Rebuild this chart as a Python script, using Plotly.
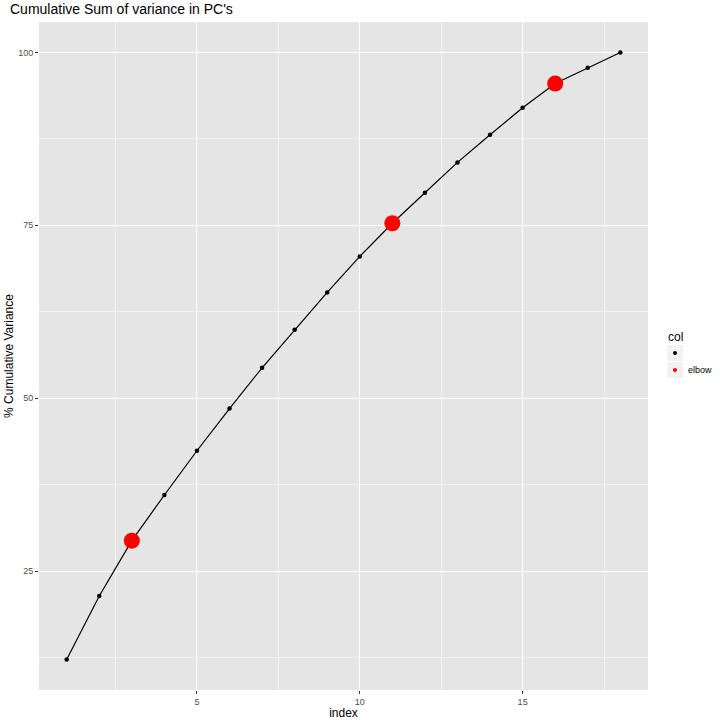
import plotly.graph_objects as go

index = list(range(1, 19))
cum_var = [12.2, 21.4, 29.4, 36.0, 42.4, 48.5, 54.4, 59.9, 65.3, 70.5,
           75.3, 79.7, 84.1, 88.1, 92.0, 95.5, 97.8, 100.0]
elbow_idx = [3, 11, 16]

x_ticks = [5, 10, 15]
y_ticks = [25, 50, 75, 100]

elbow_x = [i for i in elbow_idx]
elbow_y = [cum_var[index.index(i)] for i in elbow_idx]
norm_x = [i for i in index if i not in elbow_idx]
norm_y = [cum_var[index.index(i)] for i in norm_x]

W, H = 720, 720
ML, MR, MT, MB = 39, 72, 22, 30
PW, PH = W - ML - MR, H - MT - MB


def px(xp):
    return (xp - ML) / PW


def py(yp):
    return (H - MB - yp) / PH


fig = go.Figure()
fig.add_trace(go.Scatter(x=index, y=cum_var, mode="lines",
                         line=dict(color="black", width=1.2),
                         showlegend=False, hoverinfo="skip"))
fig.add_trace(go.Scatter(x=norm_x, y=norm_y, mode="markers",
                         marker=dict(color="black", size=4.5),
                         showlegend=False))
fig.add_trace(go.Scatter(x=elbow_x, y=elbow_y, mode="markers",
                         marker=dict(color="#FF0000", size=16),
                         showlegend=False))

# manual legend (ggplot style)
shapes = []
annotations = []
key_colors = ["black", "#FF0000"]
key_labels = ["", "elbow"]
for k, (c, lab) in enumerate(zip(key_colors, key_labels)):
    y0 = 345 + k * 17
    shapes.append(dict(type="rect", xref="paper", yref="paper",
                       x0=px(667), x1=px(683), y0=py(y0 + 16), y1=py(y0),
                       fillcolor="#F2F2F2", line=dict(width=0), layer="below"))
    shapes.append(dict(type="circle", xref="paper", yref="paper",
                       x0=px(673), x1=px(677), y0=py(y0 + 10), y1=py(y0 + 6),
                       fillcolor=c, line=dict(width=0)))
    if lab:
        annotations.append(dict(text=lab, xref="paper", yref="paper",
                                x=px(686), y=py(y0 + 8), xanchor="left",
                                yanchor="middle", showarrow=False,
                                font=dict(size=9, color="black")))
annotations.append(dict(text="col", xref="paper", yref="paper",
                        x=px(666), y=py(337), xanchor="left", yanchor="middle",
                        showarrow=False, font=dict(size=12, color="black")))

fig.update_layout(
    width=W, height=H,
    margin=dict(l=ML, r=MR, t=MT, b=MB),
    paper_bgcolor="white",
    plot_bgcolor="#E5E5E5",
    font=dict(family="Liberation Sans, Arial, sans-serif", color="black"),
    title=dict(text="Cumulative Sum of variance in PC's", x=10 / W, xanchor="left",
               y=1 - 4 / H, yanchor="top", font=dict(size=14, color="black")),
    showlegend=False,
    shapes=shapes,
    annotations=annotations,
)
fig.update_xaxes(range=[0.15, 18.85], tickvals=x_ticks, ticks="outside",
                 ticklen=3, tickcolor="#333333", tickfont=dict(size=9, color="#4D4D4D"),
                 showgrid=True, gridcolor="white", gridwidth=1.2,
                 minor=dict(tickvals=[2.5, 7.5, 12.5, 17.5], showgrid=True,
                            gridcolor="#F2F2F2", gridwidth=0.6),
                 zeroline=False, showline=False, automargin=False,
                 title=dict(text="index", font=dict(size=12), standoff=2))
fig.update_yaxes(range=[7.8, 104.4], tickvals=y_ticks, ticks="outside",
                 ticklen=3, tickcolor="#333333", tickfont=dict(size=9, color="#4D4D4D"),
                 showgrid=True, gridcolor="white", gridwidth=1.2,
                 minor=dict(tickvals=[12.5, 37.5, 62.5, 87.5], showgrid=True,
                            gridcolor="#F2F2F2", gridwidth=0.6),
                 zeroline=False, showline=False, automargin=False,
                 title=dict(text="% Cumulative Variance", font=dict(size=12), standoff=1))

fig.write_html("out.html", config={"displayModeBar": False},
               post_script="document.body.style.margin='0';document.body.style.overflow='hidden';")
